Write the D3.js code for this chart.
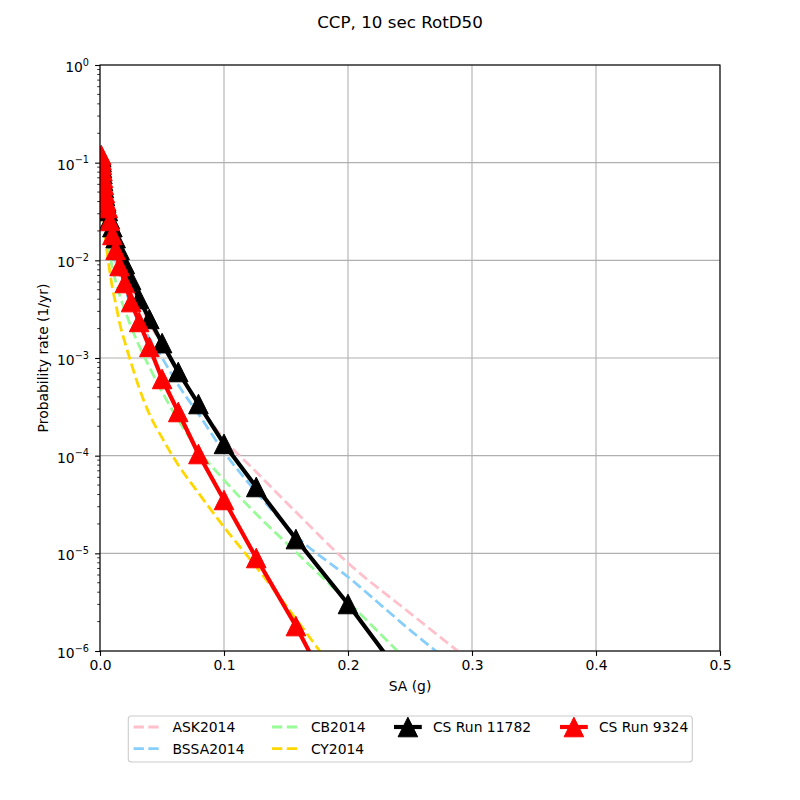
<!DOCTYPE html>
<html><head><meta charset="utf-8">
<script src="https://cdn.jsdelivr.net/npm/d3@7"></script>
<style>
body{margin:0;background:#fff}
text{font-family:"DejaVu Sans",sans-serif;fill:#000}
</style>
</head><body>
<svg id="c" width="800" height="800"></svg>
<script>
// SA grid (g) – log spaced, 10 per decade
const saGrid = [0.001,0.00126,0.00158,0.002,0.00251,0.00316,0.00398,0.00501,0.00631,0.00794,
  0.01,0.0126,0.0158,0.02,0.0251,0.0316,0.0398,0.0501,0.0631,0.0794,0.1,0.126,0.158,0.2,0.251,0.316];

// probability rates (1/yr)
const ask2014 = [0.1116,0.0992,0.0861,0.0748,0.0634,0.0538,0.0445,0.0369,0.0305,0.0247,0.0195,0.0150,0.0113,0.00815,0.00579,0.00366,0.00228,0.00136,7.19e-4,3.38e-4,1.48e-4,6.81e-5,2.65e-5,7.97e-6,2.39e-6,5.29e-7];
const bssa2014 = [0.0946,0.0822,0.0713,0.0605,0.0513,0.0425,0.0343,0.0278,0.0219,0.0169,0.0131,0.00984,0.00725,0.00509,0.00349,0.00234,0.00160,1.00e-3,5.29e-4,2.67e-4,1.09e-4,4.25e-5,1.51e-5,5.73e-6,1.60e-6,3.55e-7];
const cb2014 = [0.0841,0.0713,0.0605,0.0513,0.0425,0.0343,0.0271,0.0209,0.0158,0.0116,0.00835,0.00614,0.00442,0.00310,0.00208,0.00133,8.09e-4,4.49e-4,2.32e-4,1.14e-4,5.64e-5,2.53e-5,1.03e-5,3.18e-6,7.19e-7];
const cy2014 = [0.0748,0.0605,0.0489,0.0387,0.0305,0.0236,0.0182,0.0140,0.01057,0.00760,0.00521,0.00366,0.00228,0.00146,8.89e-4,4.93e-4,2.67e-4,1.52e-4,8.03e-5,4.15e-5,1.86e-5,7.25e-6,2.13e-6,3.99e-7];
const csRun11782 = [0.1143,0.1016,0.0882,0.0766,0.0649,0.0550,0.0456,0.0387,0.0320,0.0265,0.0219,0.0169,0.0128,0.00917,0.00629,0.00402,0.00251,0.00142,7.19e-4,3.38e-4,1.32e-4,4.78e-5,1.40e-5,3.03e-6,4.08e-7];
const csRun9324 = [0.1198,0.1065,0.0946,0.0822,0.0697,0.0591,0.0489,0.0405,0.0343,0.0253,0.0182,0.0128,0.00875,0.00586,0.00374,0.00234,0.00130,6.10e-4,2.80e-4,1.04e-4,3.52e-5,8.96e-6,1.80e-6,1.71e-7];

const xTicks = [0.0,0.1,0.2,0.3,0.4,0.5];
const yTicks = [1e-6,1e-5,1e-4,1e-3,1e-2,1e-1,1e0];

const gmpes = [
  {name:"ASK2014", vals:ask2014, color:"#ffc0cb"},
  {name:"BSSA2014", vals:bssa2014, color:"#87cefa"},
  {name:"CB2014", vals:cb2014, color:"#98fb98"},
  {name:"CY2014", vals:cy2014, color:"#ffd700"}
];
const runs = [
  {name:"CS Run 11782", vals:csRun11782, color:"#000000"},
  {name:"CS Run 9324", vals:csRun9324, color:"#ff0000"}
];

const L=100,R=720,T=65,B=651;
const svg = d3.select("#c");
const x = d3.scaleLinear().domain([0,0.5]).range([L,R]);
const y = d3.scaleLog().domain([1e-6,1]).range([B,T]);
const fs = 13.9;

svg.append("rect").attr("width",800).attr("height",800).attr("fill","#fff");

// clip
svg.append("defs").append("clipPath").attr("id","clip")
  .append("rect").attr("x",L).attr("y",T).attr("width",R-L).attr("height",B-T);

// grid
const grid = svg.append("g");
xTicks.forEach(t=>grid.append("line").attr("x1",x(t)).attr("x2",x(t)).attr("y1",T).attr("y2",B)
  .attr("stroke","#b0b0b0").attr("stroke-width",1.1));
yTicks.forEach(t=>grid.append("line").attr("x1",L).attr("x2",R).attr("y1",y(t)).attr("y2",y(t))
  .attr("stroke","#b0b0b0").attr("stroke-width",1.1));

// data
const plot = svg.append("g").attr("clip-path","url(#clip)");
const toPts = v => v.map((d,i)=>[saGrid[i], d]);
const smooth = d3.line().x(d=>x(d[0])).y(d=>y(d[1])).curve(d3.curveMonotoneX);
const straight = d3.line().x(d=>x(d[0])).y(d=>y(d[1]));

gmpes.forEach(s=>{
  plot.append("path").attr("d",smooth(toPts(s.vals))).attr("fill","none")
    .attr("stroke",s.color).attr("stroke-width",2.78).attr("stroke-dasharray","10.3,4.45");
});
const tri = s => `M0,${-s}L${-s},${s}L${s},${s}Z`;
runs.forEach(s=>{
  const pts = toPts(s.vals);
  plot.append("path").attr("d",straight(pts)).attr("fill","none")
    .attr("stroke",s.color).attr("stroke-width",4.17).attr("stroke-linejoin","round");
  plot.selectAll(null).data(pts).enter().append("path")
    .attr("transform",d=>`translate(${x(d[0])},${y(d[1])})`)
    .attr("d",tri(9.8)).attr("fill",s.color).attr("stroke",s.color).attr("stroke-width",1);
});

// axes frame
svg.append("rect").attr("x",L).attr("y",T).attr("width",R-L).attr("height",B-T)
  .attr("fill","none").attr("stroke","#000").attr("stroke-width",1.1);

// x axis
const xa = svg.append("g").attr("transform",`translate(0,${B})`)
  .call(d3.axisBottom(x).tickValues(xTicks).tickFormat(d3.format(".1f")).tickSize(4.9).tickPadding(4.5));
xa.select(".domain").remove();
xa.selectAll("line").attr("stroke-width",1.1);
xa.selectAll("text").attr("font-size",fs).attr("font-family","DejaVu Sans");

// y axis major
const ya = svg.append("g").attr("transform",`translate(${L},0)`)
  .call(d3.axisLeft(y).tickValues(yTicks).tickFormat(()=>"").tickSize(4.9));
ya.select(".domain").remove();
ya.selectAll("line").attr("stroke-width",1.1);
ya.selectAll(".tick").each(function(d){
  const e = Math.round(Math.log10(d));
  const t = d3.select(this).append("text").attr("x",-11).attr("y",6.5)
    .attr("text-anchor","end").attr("font-size",fs).attr("font-family","DejaVu Sans");
  t.append("tspan").text("10");
  t.append("tspan").attr("dy",-6.5).attr("font-size",9.7).text(e===0?"0":"\u2212"+(-e));
});
// y minor ticks
const minor=[];
for(let k=-6;k<0;k++) for(let m=2;m<=9;m++) minor.push(m*Math.pow(10,k));
svg.append("g").selectAll("line").data(minor).enter().append("line")
  .attr("x1",L).attr("x2",L-2.8).attr("y1",d=>y(d)).attr("y2",d=>y(d))
  .attr("stroke","#000").attr("stroke-width",0.8);

// labels
svg.append("text").attr("x",400).attr("y",28).attr("text-anchor","middle")
  .attr("font-size",16.7).text("CCP, 10 sec RotD50");
svg.append("text").attr("x",(L+R)/2).attr("y",691).attr("text-anchor","middle")
  .attr("font-size",fs).text("SA (g)");
svg.append("text").attr("transform",`translate(48,${(T+B)/2}) rotate(-90)`).attr("text-anchor","middle")
  .attr("font-size",fs).text("Probability rate (1/yr)");

// legend
const lg = svg.append("g");
lg.append("rect").attr("x",128.3).attr("y",716).attr("width",564).attr("height",46).attr("rx",3)
  .attr("fill","#fff").attr("fill-opacity",0.8).attr("stroke","#cccccc").attr("stroke-width",1.1);
const entries = [
  {s:gmpes[0], hx:133.6, row:0, dash:true},
  {s:gmpes[1], hx:133.6, row:1, dash:true},
  {s:gmpes[2], hx:272, row:0, dash:true},
  {s:gmpes[3], hx:272, row:1, dash:true},
  {s:runs[0], hx:394, row:0, dash:false},
  {s:runs[1], hx:560, row:0, dash:false}
];
entries.forEach(e=>{
  const yy = 727 + e.row*21.6;
  const g = lg.append("g");
  const ln = g.append("line").attr("x1",e.hx).attr("x2",e.hx+27.8).attr("y1",yy).attr("y2",yy)
    .attr("stroke",e.s.color);
  if(e.dash){ ln.attr("stroke-width",2.78).attr("stroke-dasharray","10.3,4.45"); }
  else {
    ln.attr("stroke-width",4.17);
    g.append("path").attr("transform",`translate(${e.hx+13.9},${yy})`).attr("d",tri(9.8))
      .attr("fill",e.s.color).attr("stroke",e.s.color).attr("stroke-width",1);
  }
  g.append("text").attr("x",e.hx+38.9).attr("y",yy+5).attr("font-size",fs).text(e.s.name);
});
</script>
</body></html>
